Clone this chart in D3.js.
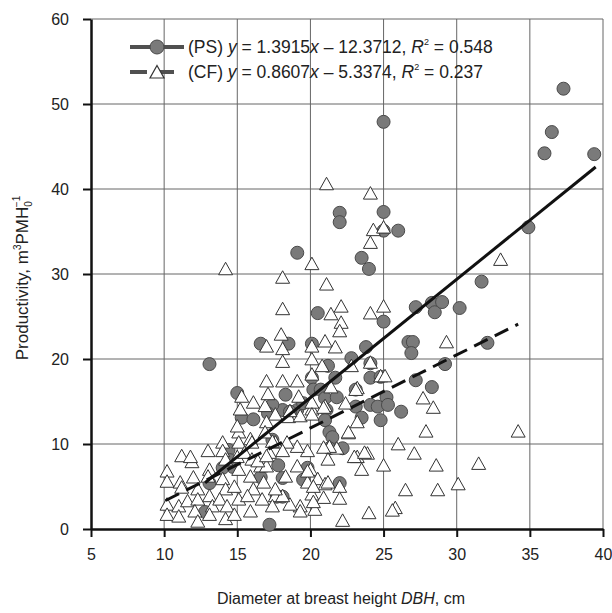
<!DOCTYPE html>
<html lang="en">
<head>
<meta charset="UTF-8">
<title>Productivity vs DBH</title>
<script src="https://d3js.org/d3.v7.min.js"></script>
<style>
    body {
        margin: 0;
        background: #fff;
        font-family: 'Liberation Sans', Arial, sans-serif;
    }
    svg text { fill: #222; }
    .axis path, .axis line { stroke: #111; }
    .axis text { font-size: 16px; fill: #222; }
</style>
</head>
<body>
<svg id="chart" width="612" height="613"></svg>
<script>
// ticks
const xTicks = [5, 10, 15, 20, 25, 30, 35, 40];
const yTicks = [0, 10, 20, 30, 40, 50, 60];

// (PS) points: [DBH cm, productivity]
const psPoints = [
    [13.1, 19.4], [15.0, 16.0], [15.3, 13.1], [16.1, 12.9], [16.6, 21.8], [18.5, 21.8],
    [19.1, 32.5], [20.1, 21.8], [20.5, 25.4], [21.2, 19.2], [21.7, 17.8], [20.1, 17.8],
    [20.2, 16.4], [20.7, 16.4], [21.0, 15.4], [21.8, 15.5], [21.1, 14.0], [21.0, 12.8],
    [21.3, 11.4], [21.5, 10.8], [21.3, 9.5], [22.2, 9.5], [18.3, 15.8], [18.1, 14.0],
    [17.4, 14.6], [19.1, 14.0], [19.5, 14.8], [17.4, 10.5], [17.8, 7.5], [18.1, 6.0],
    [18.1, 3.8], [19.5, 5.8], [19.8, 7.2], [22.0, 5.4], [17.2, 0.5], [14.7, 7.3],
    [12.8, 2.0], [14.4, 9.3], [13.1, 5.4], [22.0, 37.2], [22.0, 36.1], [23.5, 31.9],
    [24.0, 30.6], [25.0, 37.3], [25.0, 35.1], [26.0, 35.1], [25.0, 47.9], [22.8, 20.1],
    [23.8, 21.4], [24.1, 19.5], [24.1, 17.8], [24.8, 17.9], [23.1, 16.4], [25.2, 15.5],
    [23.1, 14.4], [24.1, 14.6], [23.5, 13.1], [24.8, 12.8], [25.0, 24.4], [26.7, 22.0],
    [27.0, 22.0], [26.9, 20.7], [32.1, 21.9], [29.2, 19.4], [27.2, 17.5], [28.3, 16.7],
    [26.2, 13.8], [27.2, 26.1], [28.3, 26.6], [28.5, 25.5], [29.0, 26.7], [30.2, 26.0],
    [31.7, 29.1], [34.9, 35.5], [37.3, 51.8], [36.5, 46.7], [36.0, 44.2], [39.4, 44.1],
    [24.6, 14.4], [25.3, 14.6], [18.6, 13.8], [14.0, 7.2], [14.5, 8.1], [16.6, 6.1],
    [17.1, 13.6], [17.7, 3.8]
];

// (CF) points: [DBH cm, productivity]
const cfPoints = [
    [21.1, 40.5], [24.1, 39.4], [24.3, 35.1], [25.0, 35.4], [24.1, 33.6], [20.1, 31.1],
    [18.1, 29.5], [21.1, 28.7], [14.2, 30.5], [18.1, 25.8], [21.4, 25.2], [22.1, 26.1],
    [22.1, 24.2], [33.0, 31.6], [25.0, 26.1], [24.1, 25.3], [29.3, 21.9], [21.7, 21.3],
    [24.1, 19.5], [22.8, 19.1], [24.8, 17.9], [25.1, 17.9], [23.2, 16.5], [27.7, 15.3],
    [28.4, 14.2], [22.4, 14.7], [23.2, 12.5], [22.6, 11.2], [27.9, 11.4], [34.2, 11.4],
    [26.0, 9.9], [27.1, 8.8], [21.8, 9.4], [23.2, 8.4], [23.9, 8.8], [23.5, 6.9],
    [25.0, 7.4], [28.6, 7.4], [31.5, 7.6], [22.0, 4.9], [22.0, 3.5], [26.5, 4.5],
    [28.7, 4.5], [30.1, 5.2], [25.8, 2.4], [25.6, 2.1], [24.0, 1.8], [22.2, 0.9],
    [17.6, 13.4], [18.5, 13.1], [19.3, 13.2], [20.1, 14.0], [21.0, 14.4], [22.6, 11.3],
    [21.3, 9.6], [20.9, 9.5], [19.8, 9.1], [19.1, 9.6], [18.4, 10.1], [17.6, 10.1],
    [21.2, 8.1], [23.0, 8.4], [23.7, 8.9], [20.0, 6.9], [18.3, 6.1], [19.8, 5.4],
    [20.5, 5.8], [21.0, 5.2], [20.1, 4.0], [19.3, 2.6], [18.6, 2.8], [20.3, 2.2],
    [17.6, 3.8], [18.1, 3.8],
    [10.2, 6.7], [10.2, 5.5], [10.2, 2.8], [10.2, 1.6], [11.2, 8.5], [11.9, 7.8],
    [11.8, 8.4], [11.1, 5.4], [11.2, 4.8], [12.0, 6.0], [11.0, 2.6], [11.0, 1.4],
    [11.6, 3.2], [12.3, 4.6], [12.3, 3.4], [12.1, 2.0], [12.3, 0.8], [13.0, 9.1],
    [13.1, 6.9], [13.0, 6.1], [13.1, 3.8], [13.3, 2.6], [13.1, 1.6], [14.0, 10.1],
    [14.0, 9.1], [14.2, 8.1], [14.0, 5.8], [14.2, 4.6], [13.8, 3.4], [14.3, 2.6],
    [14.2, 1.1], [15.1, 11.3], [15.1, 10.1], [15.0, 8.4], [15.1, 6.9], [14.8, 4.9],
    [15.1, 3.4], [14.8, 1.6], [15.9, 10.5], [15.5, 8.9], [16.0, 8.1], [15.9, 6.1],
    [16.1, 4.6], [15.7, 3.8], [15.9, 2.0], [16.6, 7.3], [16.8, 5.4], [16.7, 3.4],
    [17.0, 12.5], [16.9, 11.3], [17.4, 10.2], [17.2, 8.9], [17.0, 7.3], [17.6, 4.6],
    [17.4, 2.6], [15.2, 14.0],
    [18.0, 22.8], [17.0, 21.4], [18.1, 21.1], [18.1, 19.6], [20.1, 21.4], [20.1, 19.9],
    [21.0, 22.0], [22.0, 23.2], [17.0, 17.3], [18.1, 17.3], [19.1, 17.3], [17.1, 15.8],
    [19.2, 15.5], [15.3, 15.5], [16.1, 14.8], [16.9, 14.4], [18.6, 13.8], [20.1, 14.8],
    [20.1, 13.4], [20.9, 14.2], [15.0, 12.0], [16.0, 10.1], [16.4, 7.9], [17.0, 8.5],
    [18.1, 9.1], [19.1, 7.3], [19.8, 6.7], [20.2, 4.9], [21.2, 5.4], [20.9, 3.6],
    [20.2, 3.1], [19.3, 2.0], [20.8, 19.1], [20.1, 18.1], [21.4, 16.6], [23.1, 16.3]
];

// linear fits as printed in the legend, over each series' DBH range
const psFit = { slope: 1.3915, intercept: -12.3712, from: 12.8, to: 39.5 };
const cfFit = { slope: 0.8607, intercept: -5.3374, from: 10.1, to: 34.2 };

const svg = d3.select("#chart");

const x = d3.scaleLinear().domain([5, 40]).range([91, 603]);
const y = d3.scaleLinear().domain([0, 60]).range([529, 19]);

// grid
svg.append("g")
    .selectAll("line")
    .data(xTicks.slice(1))
    .join("line")
    .attr("x1", d => x(d)).attr("x2", d => x(d))
    .attr("y1", y(0)).attr("y2", y(60))
    .attr("stroke", "#666").attr("stroke-width", 1);

svg.append("g")
    .selectAll("line")
    .data(yTicks.slice(1))
    .join("line")
    .attr("x1", x(5)).attr("x2", x(40))
    .attr("y1", d => y(d)).attr("y2", d => y(d))
    .attr("stroke", "#666").attr("stroke-width", 1);

// axes
const xAxis = svg.append("g")
    .attr("class", "axis")
    .attr("transform", `translate(0,${y(0)})`)
    .call(d3.axisBottom(x).tickValues(xTicks).tickSize(8).tickPadding(12).tickSizeOuter(0));

const yAxis = svg.append("g")
    .attr("class", "axis")
    .attr("transform", `translate(${x(5)},0)`)
    .call(d3.axisLeft(y).tickValues(yTicks).tickSize(8).tickPadding(14).tickSizeOuter(0));

[xAxis, yAxis].forEach(a => {
    a.select(".domain").attr("stroke-width", 2.5);
    a.selectAll(".tick line").attr("stroke-width", 2);
    a.selectAll("text").attr("font-family", "'Liberation Sans', Arial, sans-serif");
});

// markers
const triangle = "M0,-7.5L7,5L-7,5Z";

svg.append("g")
    .selectAll("circle")
    .data(psPoints)
    .join("circle")
    .attr("cx", d => x(d[0]))
    .attr("cy", d => y(d[1]))
    .attr("r", 6.5)
    .attr("fill", "#7a7a7a")
    .attr("stroke", "#4a4a4a")
    .attr("stroke-width", 1);

svg.append("g")
    .selectAll("path")
    .data(cfPoints)
    .join("path")
    .attr("d", triangle)
    .attr("transform", d => `translate(${x(d[0])},${y(d[1])})`)
    .attr("fill", "#fff")
    .attr("stroke", "#333")
    .attr("stroke-width", 1);

// trend lines
function fitLine(f) {
    return [[f.from, f.slope * f.from + f.intercept], [f.to, f.slope * f.to + f.intercept]];
}
const line = d3.line().x(d => x(d[0])).y(d => y(d[1]));

svg.append("path")
    .attr("d", line(fitLine(psFit)))
    .attr("stroke", "#111").attr("stroke-width", 3).attr("fill", "none");

svg.append("path")
    .attr("d", line(fitLine(cfFit)))
    .attr("stroke", "#111").attr("stroke-width", 3).attr("fill", "none")
    .attr("stroke-dasharray", "15,8");

// legend
const legend = svg.append("g").attr("font-size", 17.5);

legend.append("line")
    .attr("x1", 130).attr("x2", 184).attr("y1", 47).attr("y2", 47)
    .attr("stroke", "#505050").attr("stroke-width", 4);
legend.append("circle")
    .attr("cx", 157).attr("cy", 47).attr("r", 7)
    .attr("fill", "#7a7a7a").attr("stroke", "#4a4a4a");

legend.append("line")
    .attr("x1", 130).attr("x2", 184).attr("y1", 72).attr("y2", 72)
    .attr("stroke", "#505050").attr("stroke-width", 4)
    .attr("stroke-dasharray", "17,10");
legend.append("path")
    .attr("d", triangle)
    .attr("transform", "translate(157,73)")
    .attr("fill", "#fff").attr("stroke", "#333").attr("stroke-width", 1.2);

function legendText(yPos, label, slope, icpt, r2) {
    const t = legend.append("text").attr("x", 188).attr("y", yPos);
    t.append("tspan").text(`(${label}) `);
    t.append("tspan").attr("font-style", "italic").text("y");
    t.append("tspan").text(` = ${slope}`);
    t.append("tspan").attr("font-style", "italic").text("x");
    t.append("tspan").text(` \u2013 ${icpt}, `);
    t.append("tspan").attr("font-style", "italic").text("R");
    t.append("tspan").attr("font-size", 9).attr("dy", -8).text("2");
    t.append("tspan").attr("dy", 8).text(` = ${r2}`);
}
legendText(53, "PS", "1.3915", "12.3712", "0.548");
legendText(78, "CF", "0.8607", "5.3374", "0.237");

// axis titles
const xt = svg.append("text")
    .attr("x", 341).attr("y", 604)
    .attr("text-anchor", "middle")
    .attr("font-size", 16);
xt.append("tspan").text("Diameter at breast height ");
xt.append("tspan").attr("font-style", "italic").text("DBH");
xt.append("tspan").text(", cm");

const yt = svg.append("text")
    .attr("transform", "translate(28,278) rotate(-90)")
    .attr("text-anchor", "middle")
    .attr("font-size", 17);
yt.append("tspan").text("Productivity, m");
yt.append("tspan").attr("font-size", 10).attr("dy", -7).text("3");
yt.append("tspan").attr("dy", 7).text("PMH");
yt.append("tspan").attr("font-size", 10).attr("dy", 4).text("0");
yt.append("tspan").attr("font-size", 10).attr("dx", -6).attr("dy", -12).text("\u22121");
</script>
</body>
</html>
